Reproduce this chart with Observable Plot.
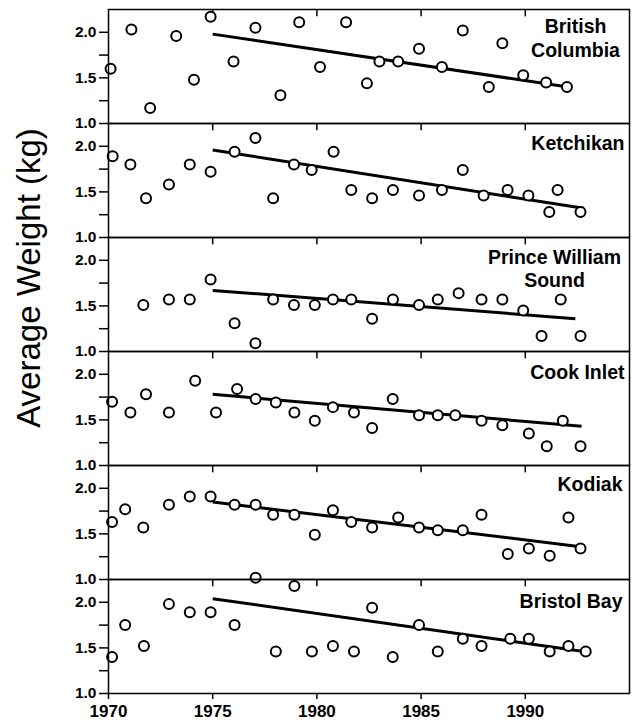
<!DOCTYPE html>
<html><head><meta charset="utf-8">
<script src="https://cdn.jsdelivr.net/npm/d3@7"></script>
<script src="https://cdn.jsdelivr.net/npm/@observablehq/plot@0.6"></script>
<style>
body{margin:0;background:#fff;}
</style>
</head><body><div id="chart"></div>
<script>
// ---- data ----
const regions = ["British Columbia","Ketchikan","Prince William Sound","Cook Inlet","Kodiak","Bristol Bay"];
const panelLabels = ["British\nColumbia","Ketchikan","Prince William\nSound","Cook Inlet","Kodiak","Bristol Bay"];

const bcYear = [1970.1,1971.1,1972.0,1973.25,1974.1,1974.9,1976.0,1977.05,1978.25,1979.15,1980.15,1981.4,1982.4,1983.0,1983.9,1984.9,1986.0,1987.0,1988.25,1988.9,1989.9,1991.0,1992.0];
const bcWeight = [1.60,2.03,1.17,1.96,1.48,2.17,1.68,2.05,1.31,2.11,1.62,2.11,1.44,1.68,1.68,1.82,1.62,2.02,1.40,1.88,1.53,1.45,1.40];

const ketYear = [1970.2,1971.05,1971.8,1972.9,1973.9,1974.9,1976.05,1977.05,1977.9,1978.9,1979.75,1980.8,1981.65,1982.65,1983.65,1984.9,1986.0,1987.0,1988.0,1989.15,1990.15,1991.15,1991.55,1992.65];
const ketWeight = [1.89,1.80,1.43,1.58,1.80,1.72,1.94,2.09,1.43,1.80,1.74,1.94,1.52,1.43,1.52,1.46,1.52,1.74,1.46,1.52,1.46,1.28,1.52,1.28];

const pwsYear = [1971.67,1972.9,1973.9,1974.9,1976.05,1977.05,1977.9,1978.9,1979.9,1980.77,1981.65,1982.65,1983.65,1984.9,1985.8,1986.8,1987.9,1988.9,1989.9,1990.78,1991.7,1992.65];
const pwsWeight = [1.51,1.57,1.57,1.79,1.31,1.09,1.57,1.51,1.51,1.57,1.57,1.36,1.57,1.51,1.57,1.64,1.57,1.57,1.45,1.17,1.57,1.17];

const ciYear = [1970.17,1971.05,1971.8,1972.9,1974.16,1975.16,1976.17,1977.06,1978.03,1978.92,1979.9,1980.77,1981.78,1982.65,1983.64,1984.9,1985.8,1986.64,1987.9,1988.9,1990.17,1991.03,1991.8,1992.65];
const ciWeight = [1.70,1.58,1.78,1.58,1.93,1.58,1.84,1.73,1.69,1.58,1.49,1.64,1.58,1.41,1.73,1.55,1.55,1.55,1.49,1.44,1.35,1.21,1.49,1.21];

const kodYear = [1970.17,1970.8,1971.67,1972.9,1973.9,1974.9,1976.05,1977.06,1977.9,1978.92,1979.9,1980.77,1981.65,1982.65,1983.9,1984.9,1985.8,1987.0,1987.9,1989.16,1990.17,1991.17,1992.07,1992.65];
const kodWeight = [1.63,1.77,1.57,1.82,1.91,1.91,1.82,1.82,1.71,1.71,1.49,1.76,1.63,1.57,1.68,1.57,1.54,1.54,1.71,1.28,1.34,1.26,1.68,1.34];

const bbYear = [1970.17,1970.8,1971.7,1972.9,1973.9,1974.9,1976.05,1977.06,1978.03,1978.92,1979.76,1980.77,1981.78,1982.65,1983.64,1984.9,1985.8,1987.0,1987.9,1989.28,1990.17,1991.17,1992.07,1992.9];
const bbWeight = [1.40,1.75,1.52,1.98,1.89,1.89,1.75,2.27,1.46,2.18,1.46,1.52,1.46,1.94,1.40,1.75,1.46,1.60,1.52,1.60,1.60,1.46,1.52,1.46];

const trendStartYear = [1975,1975,1975,1975,1975,1975];
const trendStartWeight = [1.98,1.96,1.67,1.78,1.85,2.04];
const trendEndYear = [1992.05,1992.8,1992.4,1992.7,1992.65,1992.8];
const trendEndWeight = [1.40,1.32,1.36,1.43,1.36,1.46];

const xTickValues = [1970,1975,1980,1985,1990];
const yTickValues = [1.0,1.25,1.5,1.75,2.0];
const yLabelValues = [1.0,1.5,2.0];

// ---- build tables ----
const seriesYears = [bcYear,ketYear,pwsYear,ciYear,kodYear,bbYear];
const seriesWeights = [bcWeight,ketWeight,pwsWeight,ciWeight,kodWeight,bbWeight];
const points = [];
regions.forEach((r,i)=>seriesYears[i].forEach((yr,j)=>points.push({region:r, year:yr, weight:seriesWeights[i][j]})));
const trends = regions.map((r,i)=>({region:r, x1:trendStartYear[i], y1:trendStartWeight[i], x2:trendEndYear[i], y2:trendEndWeight[i]}));

// ---- layout ----
const W=632, H=727, mt=7, mb=32, ml=108, mr=3;
const facetH = (H-mt-mb)/regions.length;
const labelLayout = [
  {anchor:"middle", dx:-54, dy:7.2, lh:1.2},
  {anchor:"end", dx:-5, dy:13, lh:1},
  {anchor:"middle", dx:-75, dy:9.6, lh:1.2},
  {anchor:"end", dx:-5, dy:14, lh:1},
  {anchor:"end", dx:-7, dy:11.5, lh:1},
  {anchor:"end", dx:-7, dy:15, lh:1}
];
const labelMarks = regions.map((r,i)=>Plot.text([{region:r, label:panelLabels[i]}], {
  fy:"region", text:"label", frameAnchor:"top-right", lineAnchor:"top",
  textAnchor:labelLayout[i].anchor, dx:labelLayout[i].dx, dy:labelLayout[i].dy,
  lineHeight:labelLayout[i].lh, fontSize:19.5, fontWeight:"bold", fill:"black"
}));

const chart = Plot.plot({
  width:W, height:H, marginTop:mt, marginBottom:mb, marginLeft:ml, marginRight:mr,
  style:{fontFamily:"'Liberation Sans', Arial, sans-serif", background:"white", color:"black"},
  x:{domain:[1970,1995]},
  y:{domain:[1,2.25]},
  fy:{domain:regions, padding:0, axis:null},
  marks:[
    Plot.ruleX(xTickValues.slice(1), {stroke:"black", strokeWidth:1.5, insetBottom:facetH-8}),
    Plot.axisY({ticks:yTickValues, tickFormat:d=>yLabelValues.includes(d)?d.toFixed(1):"", tickSize:9, tickPadding:3, fontSize:15.5, fontWeight:"bold", label:null, strokeWidth:1.5}),
    Plot.axisX({ticks:xTickValues, tickFormat:"d", tickSize:6, tickPadding:5, fontSize:17, fontWeight:"bold", label:null, strokeWidth:1.5}),
    Plot.link(trends, {x1:"x1", y1:"y1", x2:"x2", y2:"y2", fy:"region", stroke:"black", strokeWidth:3}),
    Plot.dot(points, {x:"year", y:"weight", fy:"region", r:5, stroke:"black", strokeWidth:2, fill:"white"}),
    Plot.frame({stroke:"black", strokeWidth:1.5}),
    ...labelMarks
  ]
});

const svg = d3.select(chart);
svg.selectAll("text").each(function(){
  const t = this.textContent.trim();
  if (/^\d\.\d$/.test(t)) { this.style.fontSize = "15.5px"; this.style.fontWeight = "bold"; }
  else if (/^19\d\d$/.test(t)) { this.style.fontSize = "17px"; this.style.fontWeight = "bold"; }
});

svg.append("text")
  .attr("transform","translate(40,278) rotate(-90)")
  .attr("text-anchor","middle")
  .attr("font-size",33)
  .attr("font-family","'Liberation Sans', Arial, sans-serif")
  .attr("fill","black")
  .text("Average Weight (kg)");

document.getElementById("chart").appendChild(chart);
</script>
</body></html>
